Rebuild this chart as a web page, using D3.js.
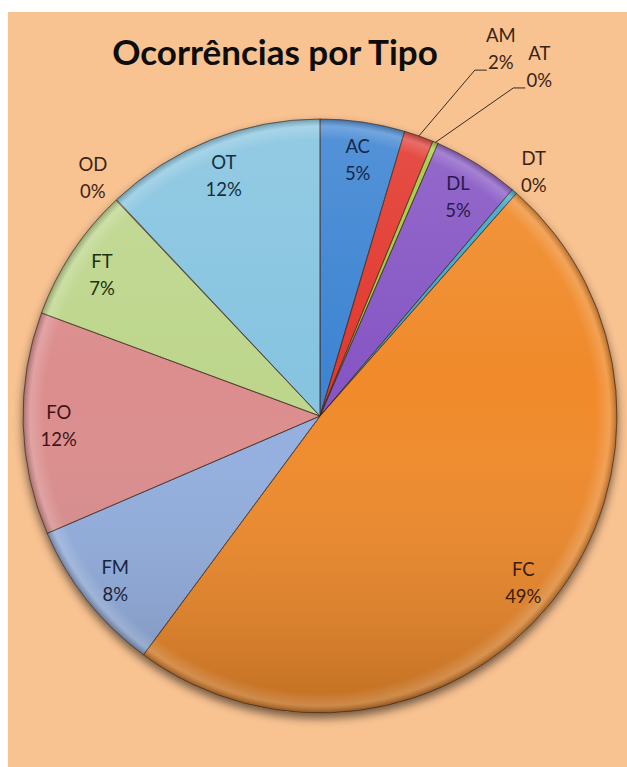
<!DOCTYPE html>
<html>
<head>
<meta charset="utf-8">
<script src="https://cdn.jsdelivr.net/npm/d3@7"></script>
<style>
  html, body { margin: 0; padding: 0; background: #ffffff; }
  svg { display: block; }
</style>
</head>
<body>
<svg id="chart" width="627" height="767"></svg>
<script>
// ---- data ----
const title = "Ocorrências por Tipo";
const categories = ["AC", "AM", "AT", "DL", "DT", "FC", "FM", "FO", "FT", "OD", "OT"];
const values     = [4.6, 1.6, 0.3, 4.7, 0.3, 48.6, 8.4, 12.1, 7.3, 0.05, 12.0];
const colors     = ["#3d84d2", "#e2382d", "#a6c83a", "#8656c4", "#3ea8c8", "#f08a2a",
                    "#93afe0", "#dc8d8d", "#bdd68c", "#d0a0c0", "#86c4e0"];
const textColors = ["#16284a", "#3a2416", "#3a2416", "#2a1a4c", "#3a2416", "#3d1c08",
                    "#17243f", "#3c1616", "#1f3010", "#3a2416", "#12303c"];

// ---- layout ----
const W = 627, H = 767;
const cx = 320, cy = 416, R = 297;
const svg = d3.select("#chart");

svg.append("rect").attr("x", 8).attr("y", 12).attr("width", W - 8).attr("height", H - 12)
  .attr("fill", "#f8c291");

const defs = svg.append("defs");
const shadow = defs.append("filter").attr("id", "shadow")
  .attr("x", "-20%").attr("y", "-20%").attr("width", "140%").attr("height", "140%");
shadow.append("feGaussianBlur").attr("in", "SourceAlpha").attr("stdDeviation", 5).attr("result", "b");
shadow.append("feOffset").attr("in", "b").attr("dx", 0).attr("dy", 5).attr("result", "o");
shadow.append("feComponentTransfer").attr("in", "o").attr("result", "o2")
  .append("feFuncA").attr("type", "linear").attr("slope", 0.55);
const merge = shadow.append("feMerge");
merge.append("feMergeNode").attr("in", "o2");
merge.append("feMergeNode").attr("in", "SourceGraphic");

// vertical shading overlay
const lg = defs.append("linearGradient").attr("id", "shade")
  .attr("x1", 0).attr("y1", 0).attr("x2", 0).attr("y2", 1);
lg.append("stop").attr("offset", "0%").attr("stop-color", "#ffffff").attr("stop-opacity", 0.12);
lg.append("stop").attr("offset", "45%").attr("stop-color", "#ffffff").attr("stop-opacity", 0.0);
lg.append("stop").attr("offset", "100%").attr("stop-color", "#000000").attr("stop-opacity", 0.2);

// rim bevel
const rg = defs.append("radialGradient").attr("id", "rim")
  .attr("cx", "50%").attr("cy", "50%").attr("r", "50%");
rg.append("stop").attr("offset", "93%").attr("stop-color", "#ffffff").attr("stop-opacity", 0);
rg.append("stop").attr("offset", "97.5%").attr("stop-color", "#ffffff").attr("stop-opacity", 0.18);
rg.append("stop").attr("offset", "100%").attr("stop-color", "#000000").attr("stop-opacity", 0.25);

const data = categories.map((c, i) => ({ cat: c, value: values[i], color: colors[i], tcolor: textColors[i] }));

const pie = d3.pie().value(d => d.value).sort(null).startAngle(0).endAngle(2 * Math.PI);
const arcs = pie(data);
const arc = d3.arc().innerRadius(0).outerRadius(R);

const g = svg.append("g").attr("transform", `translate(${cx},${cy})`);

const pieG = g.append("g").attr("filter", "url(#shadow)");
pieG.selectAll("path.slice").data(arcs.filter(a => a.data.value > 0.1)).join("path")
  .attr("class", "slice")
  .attr("d", arc)
  .attr("fill", d => d.data.color)
  .attr("stroke", "rgba(70,50,40,0.55)")
  .attr("stroke-width", 1);

g.append("circle").attr("r", R).attr("fill", "url(#shade)").attr("pointer-events", "none");
g.append("circle").attr("r", R).attr("fill", "url(#rim)").attr("pointer-events", "none");
g.selectAll("path.edge").data(arcs.filter(a => a.data.value > 0.1)).join("path")
  .attr("class", "edge")
  .attr("d", arc)
  .attr("fill", "none")
  .attr("stroke", "rgba(60,40,30,0.35)")
  .attr("stroke-width", 0.8);

const polar = (ang, r) => [Math.sin(ang) * r, -Math.cos(ang) * r];
const pct = v => Math.round(v) + "%";
const fontFam = "Lato, 'Open Sans', 'DejaVu Sans', sans-serif";
const fs = 18.5;

// label placement rules (styling, not data)
const inside = new Set(["AC", "DL", "FC", "FM", "FO", "FT", "OT"]);
const outsideR = { "DT": 1.1, "OD": 1.115 };
const leader = { "AM": { r: 384, shift: 0.11 }, "AT": { r: 387, shift: 0.16 } };

const lab = g.append("g").attr("font-family", fontFam).attr("font-size", fs);

arcs.forEach(a => {
  const mid = (a.startAngle + a.endAngle) / 2;
  const d = a.data;
  let x, y;
  if (inside.has(d.cat)) {
    [x, y] = polar(mid, R * 0.88);
  } else if (outsideR[d.cat]) {
    [x, y] = polar(mid, R * outsideR[d.cat]);
  }
  if (x !== undefined) {
    const t = lab.append("text").attr("text-anchor", "middle").attr("fill", d.tcolor);
    t.append("tspan").attr("x", x).attr("y", y - 4).text(d.cat);
    t.append("tspan").attr("x", x).attr("y", y + 23).text(pct(d.value));
    return;
  }
  const L = leader[d.cat];
  if (L) {
    const [x0, y0] = polar(mid, R);
    const [ex, ey] = polar(mid + L.shift, L.r);
    g.append("polyline")
      .attr("points", [[x0, y0], [ex - 12, ey], [ex, ey]].map(p => p.join(",")).join(" "))
      .attr("fill", "none").attr("stroke", "#3a2a20").attr("stroke-width", 1);
    const pw = 26;
    lab.append("text").attr("x", ex + 1 + pw / 2).attr("y", ey - 1)
      .attr("text-anchor", "middle").attr("fill", d.tcolor).text(pct(d.value));
    lab.append("text").attr("x", ex + 1 + pw / 2).attr("y", ey - 28)
      .attr("text-anchor", "middle").attr("fill", d.tcolor).text(d.cat);
  }
});

svg.append("text").attr("x", 275).attr("y", 65)
  .attr("text-anchor", "middle")
  .attr("font-family", fontFam).attr("font-weight", "bold").attr("font-size", 35)
  .attr("fill", "#0d0d0d").text(title);
</script>
</body>
</html>
